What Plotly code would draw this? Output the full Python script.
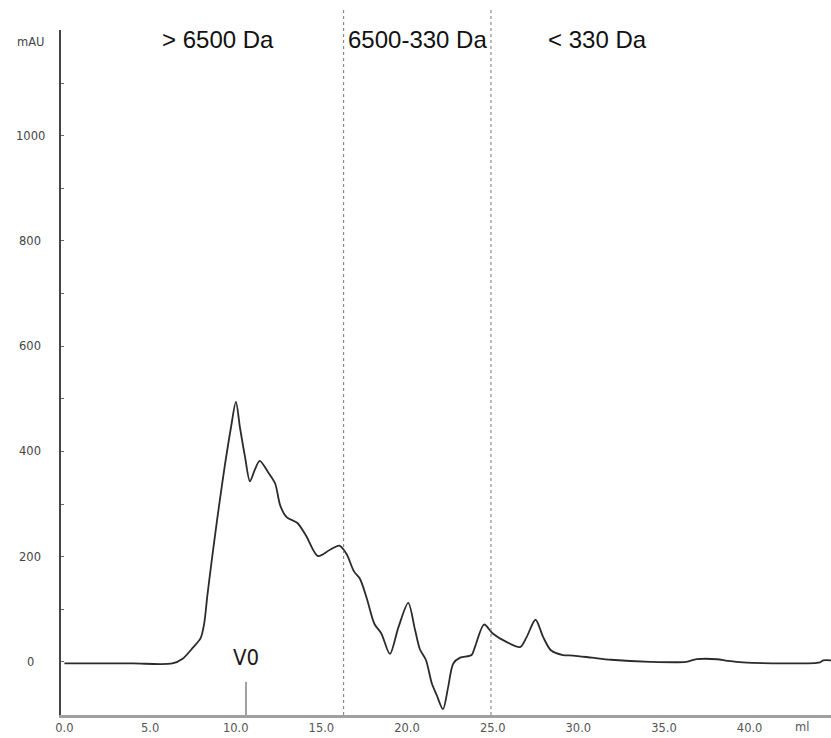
import plotly.graph_objects as go

# Elution volume (ml) and UV absorbance (mAU) of the size-exclusion chromatogram
volume_ml = [
    0.0, 2.0, 4.0, 6.3, 6.9, 7.5, 7.95, 8.16, 8.34, 8.55, 8.79, 9.04, 9.35,
    9.72, 10.01, 10.25, 10.54, 10.83, 11.1, 11.4, 11.9, 12.3, 12.6, 12.97,
    13.6, 14.1, 14.8, 15.5, 16.05, 16.47, 16.9, 17.25, 17.64, 18.1, 18.5,
    19.0, 19.5, 20.07, 20.46, 20.75, 21.1, 21.44, 21.73, 22.1, 22.4, 22.7,
    23.1, 23.77, 23.96, 24.5, 25.0, 25.8, 26.6, 26.98, 27.5, 27.95, 28.4,
    29.1, 29.7, 30.8, 31.9, 34.2, 36.3, 36.9, 38.1, 38.7, 39.6, 44.1, 44.3,
    44.75,
]
absorbance_mau = [
    -3, -3, -3, -3, 6, 27, 45, 73, 125, 180, 240, 300, 370,
    445, 494, 445, 390, 343, 364, 382, 360, 339, 297, 275,
    264, 240, 201, 213, 221, 205, 172, 158, 122, 72, 54,
    15, 66, 112, 62, 24, 4, -40, -63, -90, -48, -3,
    8, 13, 28, 71, 54, 38, 28, 47, 80, 47, 22,
    13, 12, 8, 4, 0, 0, 5, 5, 2, -1, -1, 3,
    3,
]

x_tick_vals = [0, 5, 10, 15, 20, 25, 30, 35, 40]
y_tick_vals = [0, 200, 400, 600, 800, 1000]

# Fraction cut points (ml) and molecular-weight ranges of the fractions
cut_volumes = [16.3, 24.9]
region_labels = ["> 6500 Da", "6500-330 Da", "< 330 Da"]
region_label_x = [5.56, 16.46, 28.09]

void_volume = 10.6
x_range = [-0.2, 44.75]
y_range = [-101, 1201]

fig = go.Figure()
fig.add_trace(go.Scatter(
    x=volume_ml, y=absorbance_mau, mode="lines",
    line=dict(color="#2b2b2b", width=1.8, shape="spline", smoothing=0.8),
    hoverinfo="x+y", showlegend=False,
))

shapes = []
for cv in cut_volumes:
    shapes.append(dict(type="line", xref="x", yref="paper", x0=cv, x1=cv,
                       y0=0, y1=1.032,
                       line=dict(color="#777777", width=1, dash="3px,3px")))
# void volume marker
shapes.append(dict(type="line", xref="x", yref="y", x0=void_volume, x1=void_volume,
                   y0=-38, y1=y_range[0], line=dict(color="#444444", width=1)))

annotations = []
for lbl, lx in zip(region_labels, region_label_x):
    annotations.append(dict(text=lbl, x=lx, xref="x", y=(715 - 40) / 685, yref="paper",
                            xanchor="left", yanchor="middle", showarrow=False,
                            font=dict(family="Liberation Sans, Arial", size=24, color="#111111")))
annotations.append(dict(text="V0", x=void_volume, xref="x", y=8, yref="y",
                        xanchor="center", yanchor="middle", showarrow=False,
                        font=dict(family="Liberation Sans Narrow, DejaVu Sans Condensed, Liberation Sans",
                                  size=22, color="#1a1a1a")))
for yv in y_tick_vals:
    annotations.append(dict(text=str(yv), x=0, xref="paper", xshift=-31, y=yv, yref="y",
                            xanchor="center", yanchor="middle", showarrow=False,
                            font=dict(family="DejaVu Sans", size=11.5, color="#444444")))
annotations.append(dict(text="mAU", x=0, xref="paper", xshift=-30, y=(715 - 42) / 685,
                        yref="paper", xanchor="center", yanchor="middle", showarrow=False,
                        font=dict(family="DejaVu Sans", size=11.5, color="#444444")))
annotations.append(dict(text="ml", x=1, xref="paper", xshift=-29, y=0, yref="paper",
                        yshift=-12, xanchor="center", yanchor="middle", showarrow=False,
                        font=dict(family="DejaVu Sans", size=11.5, color="#555555")))

fig.update_layout(
    width=831, height=738,
    margin=dict(l=61, r=0, t=30, b=23),
    paper_bgcolor="white", plot_bgcolor="white",
    shapes=shapes, annotations=annotations,
    xaxis=dict(range=x_range, tickvals=x_tick_vals, tickformat=".1f",
               showgrid=False, zeroline=False, showline=True,
               linecolor="#a0a0a0", linewidth=3, ticks="",
               tickfont=dict(family="DejaVu Sans", size=11.5, color="#555555")),
    yaxis=dict(range=y_range, dtick=100, tick0=0, showticklabels=False,
               showgrid=False, zeroline=False, showline=True,
               linecolor="#444444", linewidth=2, ticks="inside", ticklen=3,
               tickcolor="#666666", tickwidth=1),
)

fig.write_html("out.html")
